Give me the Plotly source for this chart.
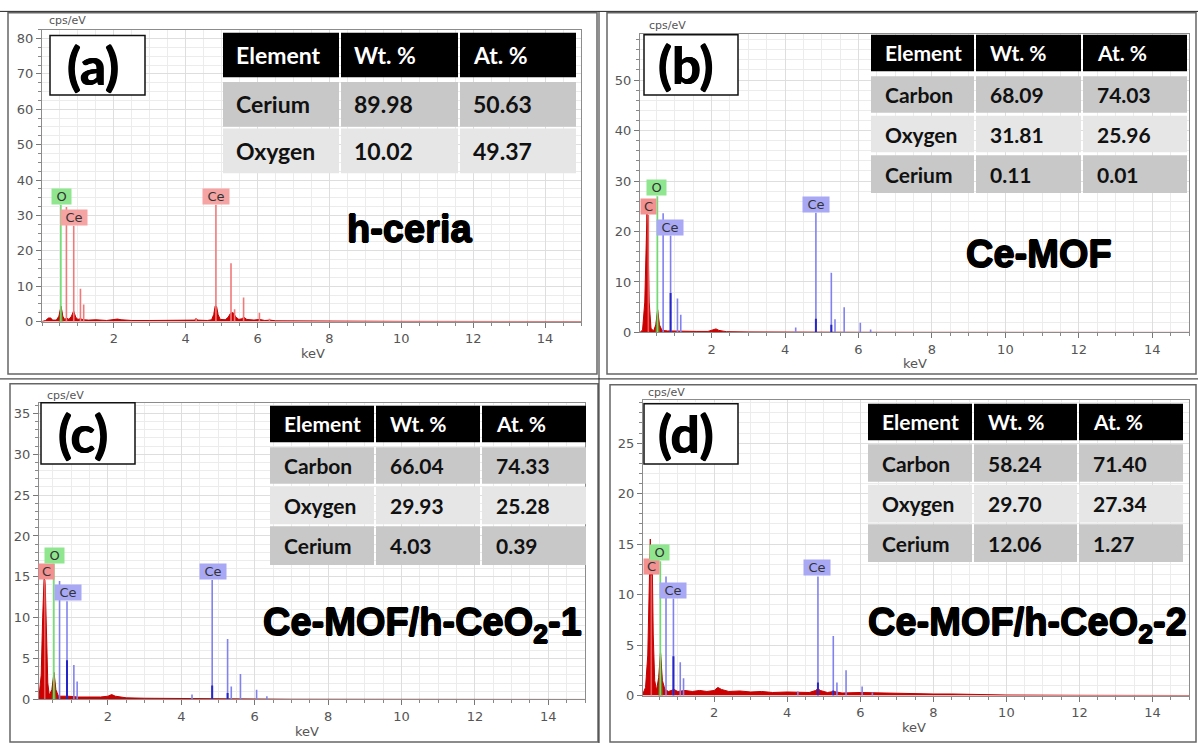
import plotly.graph_objects as go

W, H = 1198, 751


def px(x):
    return x / W


def py(y):
    return 1 - y / H


# ---------------- DATA ----------------
# (a) h-ceria
a_spec_kev = [0.0, 0.10, 0.18, 0.24, 0.30, 0.40, 0.47, 0.53, 0.58, 0.63, 0.69, 0.75, 0.82, 0.88, 0.94, 1.00,
              1.07, 1.15, 1.30, 1.50, 1.80, 2.00, 2.10, 2.20, 2.50, 3.00, 3.50, 4.00, 4.25, 4.29, 4.33, 4.60,
              4.72, 4.78, 4.82, 4.86, 4.90, 4.96, 5.10, 5.18, 5.25, 5.32, 5.40, 5.48, 5.56, 5.62, 5.70, 5.90,
              6.05, 6.20, 6.35, 6.50, 7.00, 8.00, 10.0, 15.0]
a_spec_cps = [0.0, 0.3, 1.0, 1.0, 0.4, 0.4, 1.5, 4.3, 1.5, 0.6, 1.0, 0.6, 1.5, 3.0, 1.2, 0.6,
              0.8, 0.5, 0.4, 0.5, 0.3, 0.5, 0.7, 0.5, 0.3, 0.3, 0.3, 0.3, 0.4, 0.9, 0.4, 0.3,
              0.5, 2.0, 4.4, 4.2, 2.0, 0.6, 0.5, 1.2, 2.4, 2.5, 1.2, 0.6, 0.8, 1.2, 0.6, 0.4,
              0.6, 0.3, 0.4, 0.2, 0.15, 0.1, 0.05, 0.0]
a_ofit_kev = [0.47, 0.50, 0.53, 0.56, 0.59]
a_ofit_cps = [0.0, 2.0, 4.3, 2.0, 0.0]
a_lines_el = ["O", "Ce", "Ce", "Ce", "Ce", "Ce", "Ce", "Ce", "Ce", "Ce", "Ce", "Ce"]
a_lines_kev = [0.525, 0.68, 0.883, 1.07, 1.16, 4.29, 4.84, 5.26, 5.36, 5.61, 6.05, 6.33]
a_lines_cps = [33.0, 32.4, 27.1, 9.3, 4.8, 1.0, 33.0, 16.5, 3.5, 6.8, 2.5, 0.8]
a_lab_text = ["O", "Ce", "Ce"]
a_lab_kev = [0.53, 0.89, 4.84]
a_lab_cps = [33.0, 27.1, 33.0]
a_dark_kev = []
a_dark_cps = []

# (b) Ce-MOF
b_spec_kev = [0.05, 0.12, 0.18, 0.21, 0.24, 0.27, 0.30, 0.35, 0.42, 0.48, 0.53, 0.58, 0.65, 0.80, 1.00, 1.30,
              1.60, 1.90, 2.05, 2.12, 2.20, 2.40, 3.00, 4.00, 6.00, 8.00, 15.0]
b_spec_cps = [0.0, 0.5, 6.0, 18.0, 23.5, 18.0, 6.0, 0.8, 0.3, 1.5, 4.5, 1.5, 0.4, 0.3, 0.25, 0.2,
              0.2, 0.2, 0.5, 0.7, 0.4, 0.15, 0.1, 0.05, 0.03, 0.02, 0.0]
b_ofit_kev = [0.47, 0.50, 0.53, 0.56, 0.59]
b_ofit_cps = [0.0, 2.0, 4.5, 2.0, 0.0]
b_lines_el = ["C", "O", "Ce", "Ce", "Ce", "Ce", "Ce", "Ce", "Ce", "Ce", "Ce", "Ce", "Ce"]
b_lines_kev = [0.277, 0.525, 0.68, 0.883, 1.07, 1.16, 4.29, 4.84, 5.26, 5.36, 5.61, 6.05, 6.33]
b_lines_cps = [23.3, 27.0, 23.6, 19.2, 6.7, 3.5, 1.0, 23.7, 11.8, 2.6, 5.0, 1.9, 0.6]
b_lab_text = ["C", "O", "Ce", "Ce"]
b_lab_kev = [0.28, 0.51, 0.87, 4.85]
b_lab_cps = [23.3, 27.0, 19.2, 23.7]
b_dark_kev = [0.883, 4.84, 5.26]
b_dark_cps = [7.8, 2.7, 1.5]

# (c) Ce-MOF/h-CeO2-1
c_spec_kev = [0.12, 0.18, 0.22, 0.26, 0.29, 0.32, 0.36, 0.40, 0.47, 0.53, 0.58, 0.65, 0.90, 1.20, 1.50, 1.80,
              2.00, 2.10, 2.20, 2.50, 3.00, 4.00, 5.00, 7.00, 15.0]
c_spec_cps = [0.3, 3.0, 10.0, 15.0, 14.0, 8.0, 2.0, 0.5, 1.2, 3.3, 1.2, 0.4, 0.4, 0.3, 0.3, 0.3,
              0.4, 0.6, 0.4, 0.2, 0.15, 0.1, 0.05, 0.03, 0.0]
c_ofit_kev = [0.47, 0.50, 0.53, 0.56, 0.59]
c_ofit_cps = [0.0, 1.5, 3.3, 1.5, 0.0]
c_lines_el = b_lines_el
c_lines_kev = b_lines_kev
c_lines_cps = [14.6, 16.6, 14.5, 12.0, 4.2, 2.2, 0.6, 14.6, 7.4, 1.6, 3.1, 1.2, 0.4]
c_lab_text = ["C", "O", "Ce", "Ce"]
c_lab_kev = [0.32, 0.54, 0.91, 4.87]
c_lab_cps = [14.6, 16.6, 12.0, 14.6]
c_dark_kev = [0.883, 4.84, 5.26]
c_dark_cps = [4.8, 1.7, 0.8]

# (d) Ce-MOF/h-CeO2-2
d_spec_kev = [0.05, 0.12, 0.18, 0.22, 0.25, 0.27, 0.30, 0.33, 0.37, 0.42, 0.48, 0.53, 0.58, 0.65, 0.75, 0.90,
              1.00, 1.20, 1.40, 1.60, 1.80, 2.00, 2.10, 2.20, 2.40, 2.70, 3.00, 3.30, 3.60, 4.00, 4.30, 4.60,
              4.78, 4.84, 4.90, 5.10, 5.27, 5.50, 6.00, 6.50, 7.00, 7.50, 8.00, 8.50, 9.00, 10.0, 12.0, 15.0]
d_spec_cps = [0.2, 0.8, 4.0, 11.0, 15.5, 12.0, 14.0, 6.0, 1.5, 0.5, 1.8, 4.3, 1.5, 0.6, 0.4, 0.6,
              0.4, 0.5, 0.4, 0.5, 0.4, 0.5, 0.8, 0.6, 0.4, 0.45, 0.35, 0.4, 0.3, 0.35, 0.3, 0.3,
              0.5, 0.7, 0.5, 0.3, 0.4, 0.25, 0.3, 0.25, 0.2, 0.2, 0.15, 0.15, 0.1, 0.05, 0.02, 0.0]
d_ofit_kev = [0.47, 0.50, 0.53, 0.56, 0.59]
d_ofit_cps = [0.0, 2.0, 4.3, 2.0, 0.0]
d_lines_el = b_lines_el
d_lines_kev = b_lines_kev
d_lines_cps = [11.9, 13.3, 11.8, 9.6, 3.3, 1.7, 0.4, 11.8, 5.9, 1.3, 2.5, 0.9, 0.3]
d_lab_text = ["C", "O", "Ce", "Ce"]
d_lab_kev = [0.27, 0.49, 0.86, 4.82]
d_lab_cps = [11.9, 13.3, 9.6, 11.8]
d_dark_kev = [0.883, 4.84, 5.26]
d_dark_cps = [3.9, 1.3, 0.5]

# tables
tab_header = ["Element", "Wt. %", "At. %"]
tab_a = [["Cerium", "89.98", "50.63"], ["Oxygen", "10.02", "49.37"]]
tab_b = [["Carbon", "68.09", "74.03"], ["Oxygen", "31.81", "25.96"], ["Cerium", "0.11", "0.01"]]
tab_c = [["Carbon", "66.04", "74.33"], ["Oxygen", "29.93", "25.28"], ["Cerium", "4.03", "0.39"]]
tab_d = [["Carbon", "58.24", "71.40"], ["Oxygen", "29.70", "27.34"], ["Cerium", "12.06", "1.27"]]

panel_letters = ["(a)", "(b)", "(c)", "(d)"]
sample_names = ["h-ceria", "Ce-MOF", "Ce-MOF/h-CeO<sub>2</sub>-1", "Ce-MOF/h-CeO<sub>2</sub>-2"]
y_tick_max = [80, 50, 35, 25]
y_tick_step = [10, 10, 5, 5]
y_minor_step = [2.5, 2, 1, 1]

# ---------------- STYLE / LAYOUT ----------------
LINE_COL_A = {"O": "#6fdc6f", "Ce": "#f07a7a"}
LINE_COL = {"C": "#e85c5c", "O": "#6fdc6f", "Ce": "#8282ee"}
LAB_COL_A = {"O": "#8fe68f", "Ce": "#f5a3a3"}
LAB_COL = {"C": "#f39090", "O": "#8fe68f", "Ce": "#a8a8f5"}
LAB_W = {"C": 13, "O": 17, "Ce": 24}
HEAVY = "0.7px 0 0 #000, -0.7px 0 0 #000, 0 0.7px 0 #000, 0 -0.7px 0 #000"
SEMI = "0.6px 0 0 #000, -0.6px 0 0 #000"

geo = [
    dict(x=(42, 581), y=(30, 325), xr=(0, 15), yr=(0, 82.5)),
    dict(x=(640, 1189), y=(34, 336), xr=(0.05, 15), yr=(0, 59.2)),
    dict(x=(39, 585), y=(407, 707), xr=(0.12, 15), yr=(0, 36.3)),
    dict(x=(643, 1189), y=(404, 703), xr=(0.05, 15), yr=(0, 29.3)),
]

panels = [
    dict(sk=a_spec_kev, sc=a_spec_cps, ok=a_ofit_kev, oc=a_ofit_cps, le=a_lines_el, lk=a_lines_kev,
         lc=a_lines_cps, tt=a_lab_text, tk=a_lab_kev, tc=a_lab_cps, dk=a_dark_kev, dc=a_dark_cps,
         lcol=LINE_COL_A, bcol=LAB_COL_A),
    dict(sk=b_spec_kev, sc=b_spec_cps, ok=b_ofit_kev, oc=b_ofit_cps, le=b_lines_el, lk=b_lines_kev,
         lc=b_lines_cps, tt=b_lab_text, tk=b_lab_kev, tc=b_lab_cps, dk=b_dark_kev, dc=b_dark_cps,
         lcol=LINE_COL, bcol=LAB_COL),
    dict(sk=c_spec_kev, sc=c_spec_cps, ok=c_ofit_kev, oc=c_ofit_cps, le=c_lines_el, lk=c_lines_kev,
         lc=c_lines_cps, tt=c_lab_text, tk=c_lab_kev, tc=c_lab_cps, dk=c_dark_kev, dc=c_dark_cps,
         lcol=LINE_COL, bcol=LAB_COL),
    dict(sk=d_spec_kev, sc=d_spec_cps, ok=d_ofit_kev, oc=d_ofit_cps, le=d_lines_el, lk=d_lines_kev,
         lc=d_lines_cps, tt=d_lab_text, tk=d_lab_kev, tc=d_lab_cps, dk=d_dark_kev, dc=d_dark_cps,
         lcol=LINE_COL, bcol=LAB_COL),
]

tables = [
    dict(rows=tab_a, cols=(222, 340, 459, 577), ys=[(33, 78), (83, 128), (130, 175)], fs=23, pad=12),
    dict(rows=tab_b, cols=(870, 975, 1082, 1188), ys=[(35, 72), (77, 114), (117, 154), (157, 195)], fs=21, pad=13),
    dict(rows=tab_c, cols=(269, 375, 481, 587), ys=[(410, 447), (452, 489), (492, 530), (532, 571)], fs=21, pad=13),
    dict(rows=tab_d, cols=(867, 973, 1078, 1184), ys=[(408, 445), (449, 487), (490, 528), (530, 568)], fs=21, pad=13),
]

letter_boxes = [(50, 36, 145, 96), (644, 35, 738, 96), (41, 407, 135, 469), (644, 408, 738, 469)]
name_pos = [(409, 231, 38), (1039, 257, 38), (422, 632, 38), (1027, 632, 38)]
cps_pos = [(67, 21), (667, 26), (65, 400), (666, 397)]
kev_pos = [(313, 357), (915, 367), (307, 739), (914, 735)]

fig = go.Figure()
shapes = []
annotations = []
layout_axes = {}

for i, (p, g) in enumerate(zip(panels, geo)):
    n = "" if i == 0 else str(i + 1)
    xa, ya = "x" + n, "y" + n
    # measured spectrum (filled)
    fig.add_trace(go.Scatter(x=p["sk"], y=p["sc"], xaxis=xa, yaxis=ya, mode="lines",
                             line=dict(color="#c00000", width=1), fill="tozeroy",
                             fillcolor="#cc0000", hoverinfo="skip", showlegend=False))
    # oxygen fitted peak
    fig.add_trace(go.Scatter(x=p["ok"], y=p["oc"], xaxis=xa, yaxis=ya, mode="lines",
                             line=dict(color="#7a5a12", width=0.5), fill="tozeroy",
                             fillcolor="#8a6a18", hoverinfo="skip", showlegend=False))
    # element marker lines
    for el in ["C", "O", "Ce"]:
        xs, ys = [], []
        for e, k, c in zip(p["le"], p["lk"], p["lc"]):
            if e == el:
                xs += [k, k, None]
                ys += [0, c, None]
        if xs:
            fig.add_trace(go.Scatter(x=xs, y=ys, xaxis=xa, yaxis=ya, mode="lines",
                                     line=dict(color=p["lcol"][el], width=1.6),
                                     hoverinfo="skip", showlegend=False))
    if p["dk"]:
        xs, ys = [], []
        for k, c in zip(p["dk"], p["dc"]):
            xs += [k, k, None]
            ys += [0, c, None]
        fig.add_trace(go.Scatter(x=xs, y=ys, xaxis=xa, yaxis=ya, mode="lines",
                                 line=dict(color="#2626c8", width=2),
                                 hoverinfo="skip", showlegend=False))
    # element labels
    for t, k, c in zip(p["tt"], p["tk"], p["tc"]):
        annotations.append(dict(x=k, y=c, xref=xa, yref=ya, text=t, showarrow=False,
                                xanchor="center", yanchor="bottom", bgcolor=p["bcol"][t],
                                width=LAB_W[t], height=13, borderpad=1,
                                font=dict(family="DejaVu Sans", size=13, color="#333333")))
    # axes
    ax_common = dict(showline=True, linecolor="#8c8c8c", linewidth=1, mirror=True,
                     zeroline=False, showgrid=True, gridcolor="#dedede", gridwidth=1,
                     ticks="outside", ticklen=5, tickcolor="#777777",
                     tickfont=dict(family="DejaVu Sans", size=13, color="#555555"))
    layout_axes["xaxis" + n] = dict(
        ax_common, domain=[px(g["x"][0]), px(g["x"][1])], range=list(g["xr"]), anchor=ya,
        tickmode="array", tickvals=[2, 4, 6, 8, 10, 12, 14],
        minor=dict(tick0=0, dtick=0.5, ticks="outside", ticklen=3, tickcolor="#888888",
                   showgrid=True, gridcolor="#ececec"))
    layout_axes["yaxis" + n] = dict(
        ax_common, domain=[py(g["y"][1]), py(g["y"][0])], range=list(g["yr"]), anchor=xa,
        tickmode="array", tickvals=list(range(0, y_tick_max[i] + 1, y_tick_step[i])),
        minor=dict(tick0=0, dtick=y_minor_step[i], ticks="outside", ticklen=3, tickcolor="#888888",
                   showgrid=True, gridcolor="#ececec"))
    # axis titles
    cx, cy = cps_pos[i]
    annotations.append(dict(x=px(cx), y=py(cy), xref="paper", yref="paper", text="cps/eV",
                            showarrow=False, xanchor="center", yanchor="middle",
                            font=dict(family="DejaVu Sans", size=11, color="#555555")))
    kx, ky = kev_pos[i]
    annotations.append(dict(x=px(kx), y=py(ky), xref="paper", yref="paper", text="keV",
                            showarrow=False, xanchor="center", yanchor="middle",
                            font=dict(family="DejaVu Sans", size=13, color="#555555")))

    # table
    tb = tables[i]
    allrows = [tab_header] + tb["rows"]
    fills = ["#000000"] + ["#c8c8c8" if r % 2 == 0 else "#e6e6e6" for r in range(len(tb["rows"]))]
    for r, (row, (y0, y1)) in enumerate(zip(allrows, tb["ys"])):
        for cidx in range(3):
            x0, x1 = tb["cols"][cidx], tb["cols"][cidx + 1]
            shapes.append(dict(type="rect", xref="paper", yref="paper",
                               x0=px(x0 + 1), x1=px(x1 - 1), y0=py(y1), y1=py(y0),
                               fillcolor=fills[r], line=dict(width=0), layer="above"))
            annotations.append(dict(x=px(x0 + tb["pad"]), y=py((y0 + y1) / 2), xref="paper", yref="paper",
                                    text="<b>%s</b>" % row[cidx], showarrow=False,
                                    xanchor="left", yanchor="middle",
                                    font=dict(family="Lato", size=tb["fs"],
                                              color="#ffffff" if r == 0 else "#111111")))
    # panel letter box
    bx0, by0, bx1, by1 = letter_boxes[i]
    shapes.append(dict(type="rect", xref="paper", yref="paper", x0=px(bx0), x1=px(bx1),
                       y0=py(by1), y1=py(by0), fillcolor="#ffffff",
                       line=dict(color="#111111", width=1.5), layer="above"))
    annotations.append(dict(x=px((bx0 + bx1) / 2 - 5), y=py((by0 + by1) / 2), xref="paper", yref="paper",
                            text="<b>%s</b>" % panel_letters[i], showarrow=False,
                            xanchor="center", yanchor="middle",
                            font=dict(family="Lato", size=51, color="#000000", shadow=SEMI)))
    # sample name
    nx, ny, ns = name_pos[i]
    annotations.append(dict(x=px(nx), y=py(ny), xref="paper", yref="paper",
                            text="<b>%s</b>" % sample_names[i], showarrow=False,
                            xanchor="center", yanchor="middle",
                            font=dict(family="Liberation Sans", size=ns, color="#000000", shadow=HEAVY)))

# panel frames and outer grid lines
frames = [(8, 13, 597, 378), (607, 13, 1196, 378), (10, 388, 598, 750), (610, 389, 1196, 750)]
for (x0, y0, x1, y1) in frames:
    shapes.append(dict(type="rect", xref="paper", yref="paper", x0=px(x0), x1=px(x1),
                       y0=py(y1), y1=py(y0), line=dict(color="#666666", width=1.5), layer="above"))
for (x0, y0, x1, y1) in [(0, 11.5, 1198, 11.5), (599, 11.5, 599, 751), (0, 383, 1198, 383)]:
    shapes.append(dict(type="line", xref="paper", yref="paper", x0=px(x0), x1=px(x1),
                       y0=py(y0), y1=py(y1), line=dict(color="#222222", width=1), layer="above"))

fig.update_layout(width=W, height=H, margin=dict(l=0, r=0, t=0, b=0),
                  paper_bgcolor="#ffffff", plot_bgcolor="#ffffff",
                  shapes=shapes, annotations=annotations, showlegend=False, **layout_axes)

fig.write_html("out.html", config={"displayModeBar": False},
               post_script="document.body.style.margin='0';document.body.style.overflow='hidden';")
